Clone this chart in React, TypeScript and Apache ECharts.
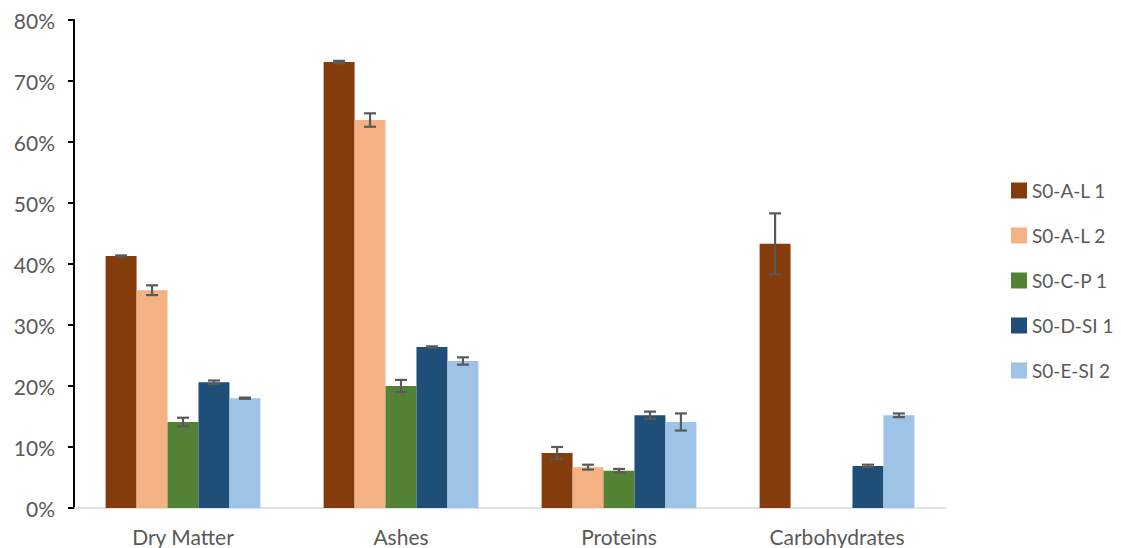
import React, { useEffect, useRef } from "react";
import * as echarts from "echarts";

const categories = ["Dry Matter", "Ashes", "Proteins", "Carbohydrates"];
const seriesNames = ["S0-A-L 1", "S0-A-L 2", "S0-C-P 1", "S0-D-SI 1", "S0-E-SI 2"];
const colors = ["#843C0C", "#F4B183", "#548235", "#1F4E79", "#9DC3E6"];

const valAL1 = [0.413, 0.731, 0.090, 0.433];
const valAL2 = [0.357, 0.636, 0.067, null];
const valCP1 = [0.141, 0.200, 0.061, null];
const valDSI1 = [0.206, 0.264, 0.152, 0.069];
const valESI2 = [0.180, 0.241, 0.141, 0.152];

const errAL1 = [0.001, 0.002, 0.010, 0.050];
const errAL2 = [0.008, 0.011, 0.004, null];
const errCP1 = [0.007, 0.010, 0.003, null];
const errDSI1 = [0.003, 0.001, 0.006, 0.002];
const errESI2 = [0.001, 0.006, 0.014, 0.003];

const yTicks = [0, 0.1, 0.2, 0.3, 0.4, 0.5, 0.6, 0.7, 0.8];

const allValues = [valAL1, valAL2, valCP1, valDSI1, valESI2];
const allErrors = [errAL1, errAL2, errCP1, errDSI1, errESI2];

const CAT_GAP = 0.29;

export default function App() {
  const ref = useRef<HTMLDivElement>(null);
  useEffect(() => {
    if (!ref.current) return;
    const chart = echarts.init(ref.current, null, { renderer: "svg" });
    const font = "Lato, 'Open Sans', sans-serif";
    const barSeries: any[] = seriesNames.map((name, i) => ({
      name,
      type: "bar",
      data: allValues[i].map((v) => (v === null ? "-" : v)),
      itemStyle: { color: colors[i] },
      barGap: "0%",
      barCategoryGap: CAT_GAP * 100 + "%",
    }));
    const errSeries: any[] = seriesNames.map((name, i) => {
      const data: any[] = [];
      allValues[i].forEach((v, ci) => {
        const e = allErrors[i][ci];
        if (v !== null && e !== null) data.push([ci, v - e, v + e]);
      });
      return {
        name: name + " err",
        type: "custom",
        z: 10,
        silent: true,
        data,
        encode: { x: 0, y: [1, 2] },
        renderItem: (params: any, api: any) => {
          const ci = api.value(0);
          const lo = api.coord([ci, api.value(1)]);
          const hi = api.coord([ci, api.value(2)]);
          const catW = api.size([1, 0])[0];
          const bw = (catW * (1 - CAT_GAP)) / 5;
          const x = lo[0] + (i - 2) * bw;
          const half = 6;
          const style = { stroke: "#595959", lineWidth: 2.2 };
          return {
            type: "group",
            children: [
              { type: "line", shape: { x1: x, y1: lo[1], x2: x, y2: hi[1] }, style },
              { type: "line", shape: { x1: x - half, y1: lo[1], x2: x + half, y2: lo[1] }, style },
              { type: "line", shape: { x1: x - half, y1: hi[1], x2: x + half, y2: hi[1] }, style },
            ],
          };
        },
      };
    });
    chart.setOption({
      animation: false,
      textStyle: { fontFamily: font },
      grid: { left: 66, right: 175, top: 12, bottom: 40, containLabel: false },
      legend: {
        orient: "vertical",
        left: 998,
        top: 168,
        itemGap: 26,
        itemWidth: 16,
        itemHeight: 16,
        itemStyle: { borderWidth: 0 },
        icon: "rect",
        data: seriesNames,
        textStyle: { fontSize: 19, color: "#595959", fontFamily: font },
      },
      xAxis: {
        type: "category",
        data: categories,
        axisLine: { show: true, lineStyle: { color: "#D9D9D9", width: 1.5 } },
        axisTick: { show: false },
        axisLabel: { fontSize: 21, color: "#595959", margin: 18, fontFamily: font },
      },
      yAxis: {
        type: "value",
        min: yTicks[0],
        max: yTicks[yTicks.length - 1],
        interval: 0.1,
        axisLine: { show: true, lineStyle: { color: "#000", width: 2 } },
        axisTick: { show: true, length: 6, lineStyle: { color: "#000", width: 2 } },
        splitLine: { show: false },
        axisLabel: {
          fontSize: 21,
          color: "#595959",
          margin: 19,
          fontFamily: font,
          formatter: (v: number) => Math.round(v * 100) + "%",
        },
      },
      series: [...barSeries, ...errSeries],
    });
    return () => chart.dispose();
  }, []);
  return <div ref={ref} style={{ width: 1113, height: 540 }} />;
}
